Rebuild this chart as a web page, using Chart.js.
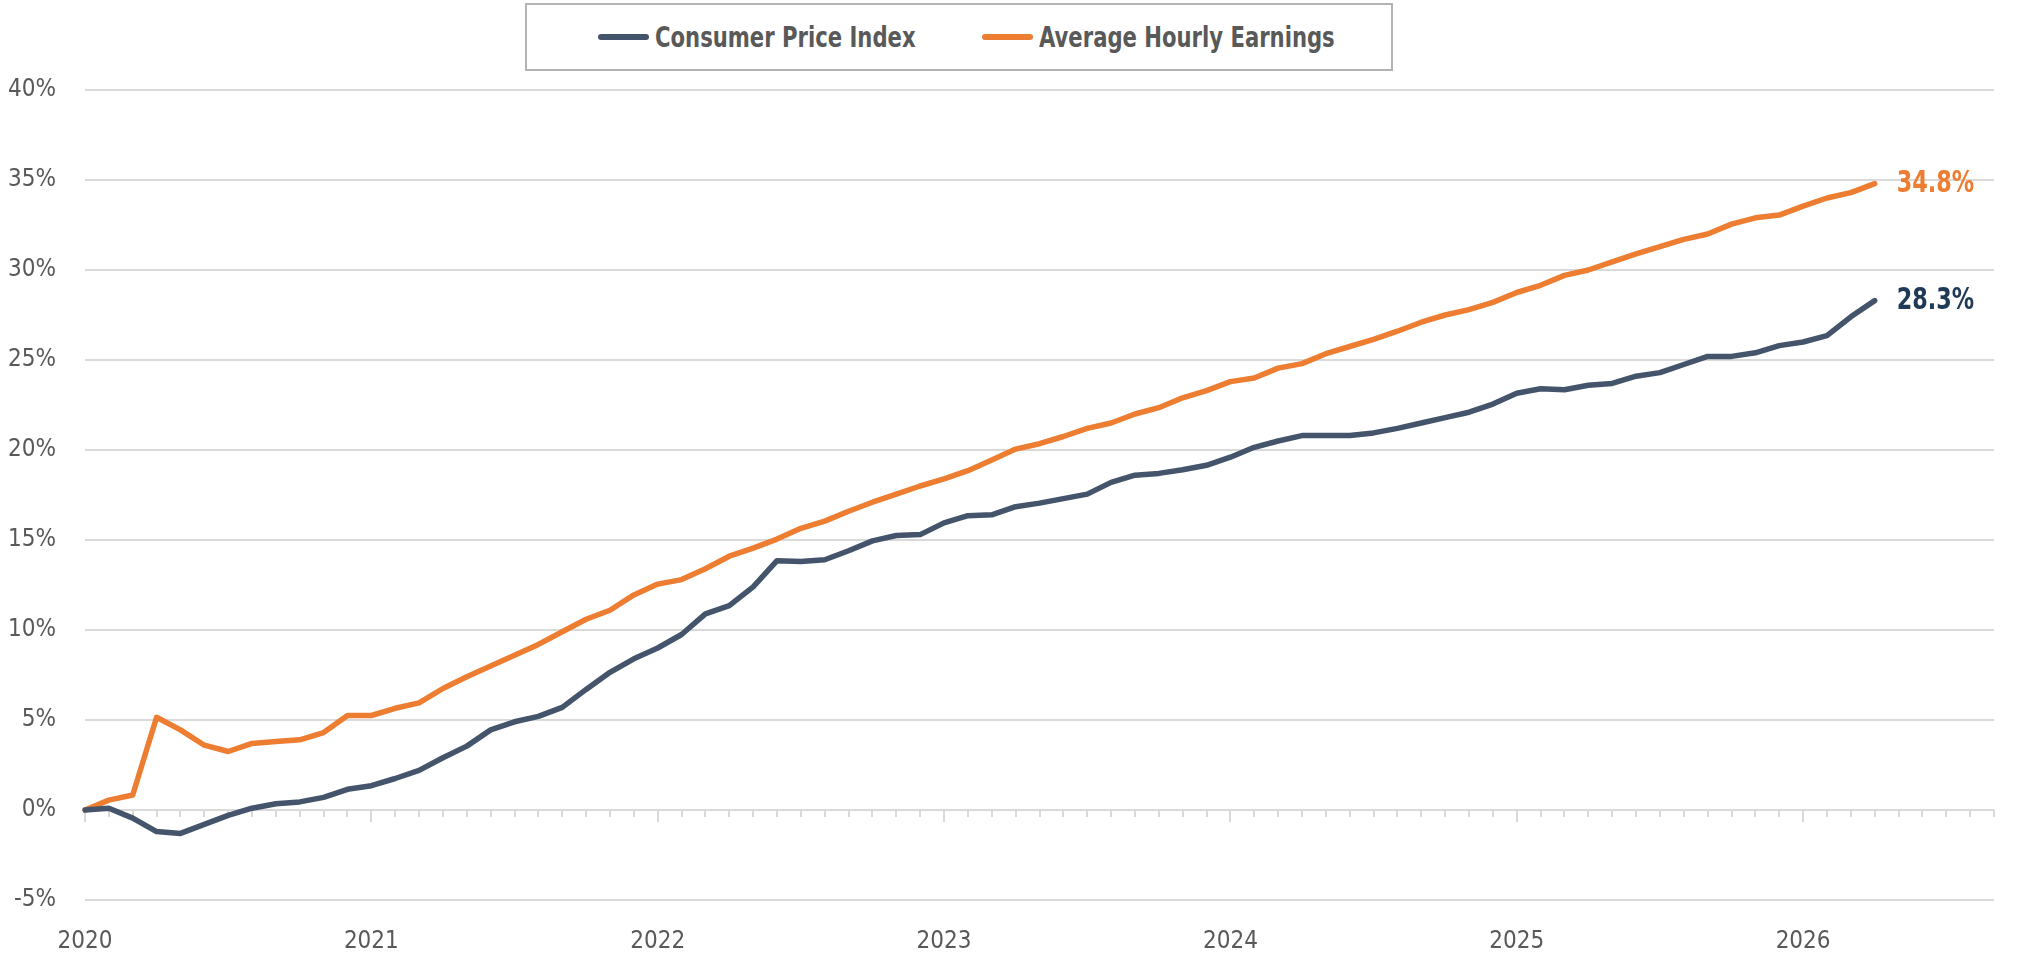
<!DOCTYPE html>
<html>
<head>
<meta charset="utf-8">
<script src="https://cdn.jsdelivr.net/npm/chart.js@4.4.1/dist/chart.umd.min.js"></script>
<style>
  body { margin: 0; background: #fff; }
  #wrap { position: relative; width: 2017px; height: 957px; overflow: hidden; }
  #chart { position: absolute; left: 0; top: 0; }
  #legend {
    position: absolute; left: 525px; top: 3px; width: 864px; height: 64px;
    border: 2px solid #b3b3b3; background: #fff;
    font-family: "DejaVu Sans Condensed", "Liberation Sans Narrow", sans-serif;
    font-weight: bold; font-size: 28px; color: #595959;
  }
  .item { position: absolute; top: 0; height: 64px; display: flex; align-items: center; white-space: nowrap; }
  .swatch { display: inline-block; width: 51px; height: 6px; border-radius: 3px; margin-right: 6px; flex: none; }
  .name { display: inline-block; transform: scaleX(0.84); transform-origin: left center; }
</style>
</head>
<body>
<div id="wrap">
  <canvas id="chart" width="2017" height="957"></canvas>
  <div id="legend"></div>
</div>
<script>
const months = [
  "2020-01","2020-02","2020-03","2020-04","2020-05","2020-06","2020-07","2020-08","2020-09","2020-10","2020-11","2020-12",
  "2021-01","2021-02","2021-03","2021-04","2021-05","2021-06","2021-07","2021-08","2021-09","2021-10","2021-11","2021-12",
  "2022-01","2022-02","2022-03","2022-04","2022-05","2022-06","2022-07","2022-08","2022-09","2022-10","2022-11","2022-12",
  "2023-01","2023-02","2023-03","2023-04","2023-05","2023-06","2023-07","2023-08","2023-09","2023-10","2023-11","2023-12",
  "2024-01","2024-02","2024-03","2024-04","2024-05","2024-06","2024-07","2024-08","2024-09","2024-10","2024-11","2024-12",
  "2025-01","2025-02","2025-03","2025-04","2025-05","2025-06","2025-07","2025-08","2025-09","2025-10","2025-11","2025-12",
  "2026-01","2026-02","2026-03","2026-04","2026-05","2026-06","2026-07","2026-08","2026-09"
];

const cpi = [
  0.0, 0.1, -0.45, -1.2, -1.3, -0.8, -0.3, 0.1, 0.35, 0.45, 0.7, 1.15,
  1.35, 1.75, 2.2, 2.9, 3.55, 4.45, 4.9, 5.2, 5.7, 6.7, 7.65, 8.4,
  9.0, 9.75, 10.9, 11.35, 12.4, 13.85, 13.8, 13.9, 14.4, 14.95, 15.25, 15.3,
  15.95, 16.35, 16.4, 16.85, 17.05, 17.3, 17.55, 18.2, 18.6, 18.7, 18.9, 19.15,
  19.6, 20.15, 20.5, 20.8, 20.8, 20.8, 20.95, 21.2, 21.5, 21.8, 22.1, 22.55,
  23.15, 23.4, 23.35, 23.6, 23.7, 24.1, 24.3, 24.75, 25.2, 25.2, 25.4, 25.8,
  26.0, 26.35, 27.4, 28.3
];

const earnings = [
  0.0, 0.55, 0.83, 5.15, 4.45, 3.6, 3.25, 3.7, 3.8, 3.9, 4.3, 5.25,
  5.25, 5.65, 5.95, 6.75, 7.4, 8.0, 8.6, 9.2, 9.9, 10.6, 11.1, 11.95,
  12.55, 12.8, 13.4, 14.1, 14.55, 15.05, 15.65, 16.05, 16.6, 17.1, 17.55, 18.0,
  18.4, 18.85, 19.45, 20.05, 20.35, 20.75, 21.2, 21.5, 22.0, 22.35, 22.9, 23.3,
  23.8, 24.0, 24.55, 24.8, 25.35, 25.75, 26.15, 26.6, 27.1, 27.5, 27.8, 28.2,
  28.75, 29.15, 29.7, 30.0, 30.45, 30.9, 31.3, 31.7, 32.0, 32.55, 32.9, 33.05,
  33.55, 34.0, 34.3, 34.8
];

const seriesNames = ["Consumer Price Index", "Average Hourly Earnings"];
const lineColors = ["#44546a", "#ed7d31"];
const endLabelColors = ["#1f3a56", "#ed7d31"];

const fontFamily = '"DejaVu Sans Condensed", "Liberation Sans Narrow", sans-serif';
const gridColor = "#d9d9d9";

// html legend
const legend = document.getElementById("legend");
const legendLeft = [71, 455];
seriesNames.forEach((name, i) => {
  const item = document.createElement("div");
  item.className = "item";
  item.style.left = legendLeft[i] + "px";
  item.innerHTML = `<span class="swatch" style="background:${lineColors[i]}"></span><span class="name">${name}</span>`;
  legend.appendChild(item);
});

// monthly tick marks hanging from the 0% line, longer at each January
const zeroTicks = {
  id: "zeroTicks",
  beforeDatasetsDraw(chart) {
    const { ctx, scales } = chart;
    const y0 = scales.y.getPixelForValue(0);
    ctx.save();
    ctx.strokeStyle = gridColor;
    ctx.lineWidth = 2;
    ctx.beginPath();
    months.forEach((m, i) => {
      const x = Math.round(scales.x.getPixelForValue(i));
      const len = m.endsWith("-01") ? 12 : 7;
      ctx.moveTo(x, y0);
      ctx.lineTo(x, y0 + len);
    });
    ctx.stroke();
    ctx.restore();
  }
};

// value label to the right of the last point
const endLabels = {
  id: "endLabels",
  afterDatasetsDraw(chart) {
    const ctx = chart.ctx;
    chart.data.datasets.forEach((ds, i) => {
      const meta = chart.getDatasetMeta(i);
      const pt = meta.data[meta.data.length - 1];
      const v = ds.data[ds.data.length - 1];
      ctx.save();
      ctx.translate(pt.x + 22, pt.y);
      ctx.scale(0.8, 1);
      ctx.font = `bold 31px ${fontFamily}`;
      ctx.textBaseline = "middle";
      ctx.textAlign = "left";
      ctx.fillStyle = endLabelColors[i];
      ctx.fillText(v.toFixed(1) + "%", 0, 0);
      ctx.restore();
    });
  }
};

const ctx = document.getElementById("chart");

new Chart(ctx, {
  type: "line",
  data: {
    labels: months,
    datasets: [
      {
        label: seriesNames[0],
        data: cpi,
        borderColor: lineColors[0],
        borderWidth: 5.5,
        pointRadius: 0,
        tension: 0,
        borderJoinStyle: "round",
        borderCapStyle: "round",
      },
      {
        label: seriesNames[1],
        data: earnings,
        borderColor: lineColors[1],
        borderWidth: 5.5,
        pointRadius: 0,
        tension: 0,
        borderJoinStyle: "round",
        borderCapStyle: "round",
      },
    ],
  },
  options: {
    responsive: false,
    animation: false,
    layout: { padding: { top: 90, right: 23, bottom: 0, left: 0 } },
    plugins: {
      legend: { display: false },
      tooltip: { enabled: false },
    },
    scales: {
      x: {
        type: "category",
        position: "bottom",
        afterFit(scale) {
          scale.height = 57;
          scale.paddingLeft = 0;
          scale.paddingRight = 0;
        },
        grid: { display: false, drawTicks: false },
        border: { display: false },
        ticks: {
          autoSkip: false,
          maxRotation: 0,
          padding: 27,
          color: "#595959",
          font: { family: fontFamily, size: 24 },
          callback(value) {
            const lbl = months[value];
            return lbl.endsWith("-01") ? lbl.slice(0, 4) : "";
          },
        },
      },
      y: {
        min: -5,
        max: 40,
        afterFit(scale) {
          scale.width = 85;
          scale.paddingTop = 0;
          scale.paddingBottom = 0;
        },
        grid: { color: gridColor, lineWidth: 2, drawTicks: false },
        border: { display: false },
        ticks: {
          stepSize: 5,
          padding: 29,
          color: "#595959",
          font: { family: fontFamily, size: 24 },
          callback: (v) => v + "%",
        },
      },
    },
  },
  plugins: [zeroTicks, endLabels],
});
</script>
</body>
</html>
